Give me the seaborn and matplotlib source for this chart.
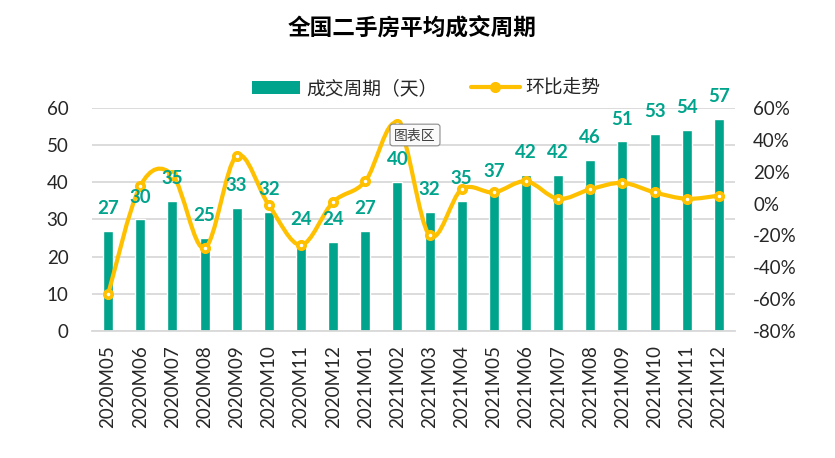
import matplotlib
matplotlib.use("Agg")
import matplotlib.pyplot as plt
import seaborn as sns
import numpy as np
from matplotlib.path import Path
from matplotlib.patches import PathPatch, Patch
from matplotlib.lines import Line2D
from matplotlib.ticker import FuncFormatter

# data
months = ["2020M05", "2020M06", "2020M07", "2020M08", "2020M09", "2020M10",
          "2020M11", "2020M12", "2021M01", "2021M02", "2021M03", "2021M04",
          "2021M05", "2021M06", "2021M07", "2021M08", "2021M09", "2021M10",
          "2021M11", "2021M12"]
cycle_days = [27, 30, 35, 25, 33, 32, 24, 24, 27, 40, 32, 35, 37, 42, 42, 46, 51, 53, 54, 57]
mom_pct = [-57, 11, 18, -28, 30, -1, -26, 1, 14, 50, -20, 9, 7, 14, 3, 9, 13, 7, 3, 5]

title = "全国二手房平均成交周期"
bar_name = "成交周期（天）"
line_name = "环比走势"

TEAL = "#00A38B"
GOLD = "#FFC000"
GRID = "#D9D9D9"

sns.set_style("white")
plt.rcParams['font.family'] = ['Lato', 'Noto Sans CJK SC', 'DejaVu Sans']

fig = plt.figure(figsize=(8.35, 4.58), dpi=100)
ax = fig.add_axes([92 / 835, 1 - 331 / 458, 643 / 835, 223 / 458])

sns.barplot(x=months, y=cycle_days, color=TEAL, width=0.31, saturation=1, ax=ax, zorder=2)
ax.set_xlim(-0.5, len(months) - 0.5)
ax.set_ylim(0, 60)
ax.set_yticks(range(0, 61, 10))
ax.yaxis.grid(True, color=GRID, linewidth=1.3, zorder=0)
ax.set_axisbelow(True)
for s in ["top", "right", "left"]:
    ax.spines[s].set_visible(False)
ax.spines["bottom"].set_color(GRID)
ax.spines["bottom"].set_linewidth(1.3)
ax.tick_params(axis="y", length=0, pad=17, labelsize=13.5)
ax.tick_params(axis="x", length=0, pad=10, labelsize=13.5, rotation=90)
ax.set_xlabel("")
ax.set_ylabel("")

# secondary axis: month-on-month trend
ax2 = ax.twinx()
ax2.set_ylim(-80, 60)
ax2.set_yticks(range(-80, 61, 20))
ax2.yaxis.set_major_formatter(FuncFormatter(lambda v, p: f"{int(v)}%"))
ax2.tick_params(axis="y", length=0, pad=13, labelsize=13.5)
for s in ax2.spines.values():
    s.set_visible(False)
ax2.grid(False)

# smoothed line (Catmull-Rom style bezier like Excel's smooth line)
x = np.arange(len(mom_pct), dtype=float)
y = np.array(mom_pct, dtype=float)
pts = np.column_stack([x, y])
verts = [pts[0]]
codes = [Path.MOVETO]
n = len(pts)
for i in range(n - 1):
    p0 = pts[i - 1] if i > 0 else pts[i]
    p1 = pts[i]
    p2 = pts[i + 1]
    p3 = pts[i + 2] if i + 2 < n else pts[i + 1]
    c1 = p1 + (p2 - p0) / 6
    c2 = p2 - (p3 - p1) / 6
    verts += [c1, c2, p2]
    codes += [Path.CURVE4] * 3
ax2.add_patch(PathPatch(Path(verts, codes), facecolor="none", edgecolor=GOLD,
                        linewidth=3, capstyle="round", zorder=3))
ax2.plot(x, y, linestyle="none", marker="o", markersize=7,
         markerfacecolor=GOLD, markeredgecolor=GOLD, zorder=4)
ax2.plot(x, y, linestyle="none", marker="o", markersize=1.5,
         markerfacecolor="white", markeredgecolor="white", zorder=5)

# value labels above bars, drawn on top of the line
for i, v in enumerate(cycle_days):
    ax2.annotate(str(v), (i, v), xycoords=ax.transData, xytext=(0, 10),
                 textcoords="offset points", ha="center", va="bottom",
                 fontsize=13.5, fontweight="bold", color=TEAL,
                 annotation_clip=False, zorder=6)

# title
fig.text(412 / 835, 1 - 28 / 458, title, ha="center", va="center",
         fontsize=16.3, fontweight="bold", color="black")

# legend
handles = [
    Patch(facecolor=TEAL, edgecolor="none"),
    Line2D([0], [0], color=GOLD, linewidth=3, marker="o", markersize=7,
           markerfacecolor=GOLD, markeredgecolor=GOLD),
]
fig.legend(handles, [bar_name, line_name], loc="center",
           bbox_to_anchor=(426 / 835, 1 - 88 / 458), ncol=2, frameon=False,
           fontsize=13.5, handlelength=2.6, handleheight=0.7, columnspacing=1.8,
           handletextpad=0.3)

# excel hover tooltip seen in the reference
fig.text(415 / 835, 1 - 135 / 458, "图表区", ha="center", va="center", fontsize=10,
         color="#404040",
         bbox=dict(boxstyle="round,pad=0.3,rounding_size=0.2", facecolor="#FAFAFA",
                   edgecolor="#8A8A8A", linewidth=0.8))

fig.savefig("out.png", dpi=100)
